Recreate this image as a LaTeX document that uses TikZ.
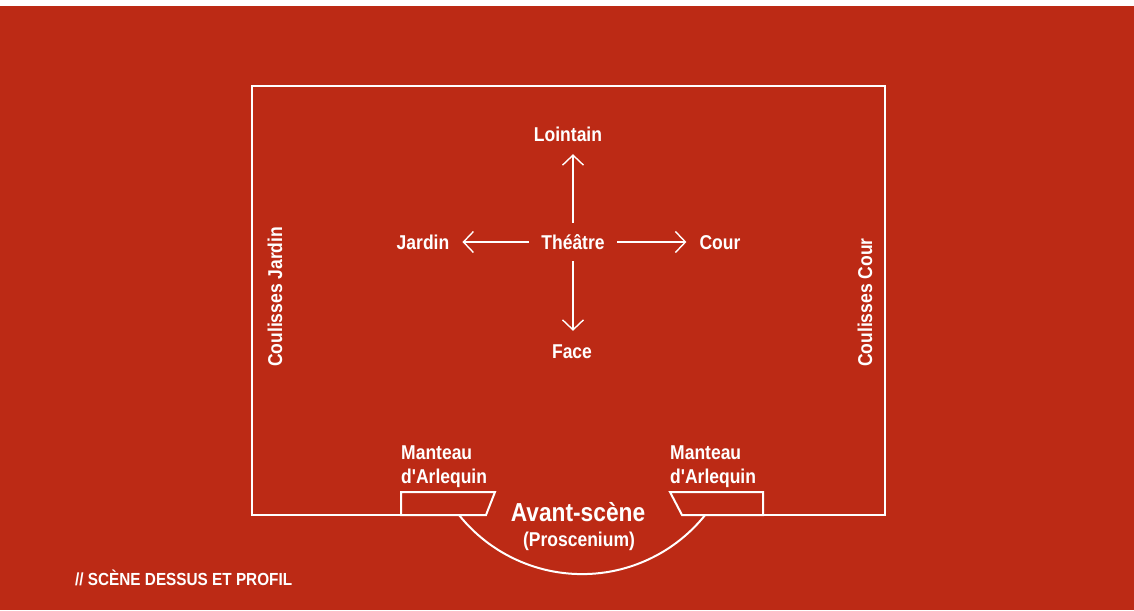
\documentclass[tikz,border=0pt]{standalone}
\usepackage{fontspec}
\setmainfont{Liberation Sans}[FakeStretch=0.875, Ligatures=TeXOff]
\usepackage{tikz}
\usetikzlibrary{arrows.meta,positioning}
\definecolor{scenered}{HTML}{BC2A15}

\begin{document}
\begin{tikzpicture}[x=1pt, y=-1pt,
    lbl/.style={text=white, font=\bfseries\fontsize{20}{24}\selectfont, inner sep=0pt, text height=14pt, text depth=0pt, anchor=base},
    side_lbl/.style={lbl, rotate=90, anchor=base west},
    two_lines/.style={text=white, font=\bfseries\fontsize{20}{24}\selectfont, inner sep=0pt, align=left, anchor=base west},
    plan/.style={draw=white, line width=2pt},
    dir/.style={-{Straight Barb[length=10pt, width=21pt]}, draw=white, line width=1.4pt, shorten <=12pt, shorten >=13pt}
]
    % Background
    \useasboundingbox (0,0) rectangle (1134,610);
    \fill[white] (0,0) rectangle (1134,6);
    \fill[scenered] (0,6) rectangle (1134,610);

    % Stage outline
    \draw[plan] (401,515) -- (252,515) -- (252,86) -- (885,86) -- (885,515) -- (763,515);
    \draw[plan] (401,515) -- (401,492) -- (495,492) -- (486,515) -- cycle;
    \draw[plan] (763,515) -- (763,492) -- (670,492) -- (682,515) -- cycle;
    \draw[plan] (459,515) arc[start angle=218.7, end angle=321.3, radius=157.7pt];

    % Nodes
    \node[lbl] (theatre) at (573,249) {Théâtre};
    \node[lbl] (lointain) at (568,141) {Lointain};
    \node[lbl] (face) at (572,358) {Face};
    \node[lbl] (jardin) at (423,249) {Jardin};
    \node[lbl] (cour) at (720,249) {Cour};

    \node[side_lbl] (coul_jardin) at (282,367) {Coulisses Jardin};
    \node[side_lbl] (coul_cour) at (872,367) {Coulisses Cour};

    \node[two_lines] (manteau_g) at (401,483) {Manteau\\d'Arlequin};
    \node[two_lines] (manteau_d) at (670,483) {Manteau\\d'Arlequin};

    \node[lbl, font=\bfseries\fontsize{26}{30}\selectfont, text height=19pt] (avant_scene) at (578,521) {Avant-scène};
    \node[lbl] (proscenium) at (579,546) {(Proscenium)};

    \node[lbl, anchor=base west, font=\bfseries\fontsize{17.5}{21}\selectfont] (titre) at (75,585) {// SCÈNE DESSUS ET PROFIL};

    % Directions
    \draw[dir] (theatre) -- (theatre |- lointain.south);
    \draw[dir] (theatre) -- (theatre |- face.north);
    \draw[dir] (theatre) -- (jardin);
    \draw[dir] (theatre) -- (cour);
\end{tikzpicture}
\end{document}
